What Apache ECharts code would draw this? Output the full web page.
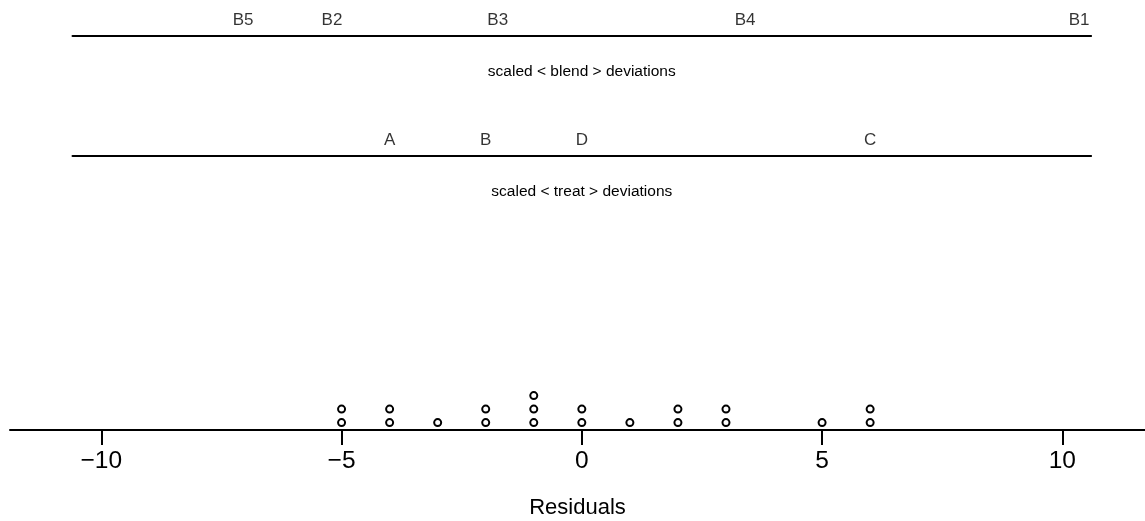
<!DOCTYPE html>
<html>
<head>
<meta charset="utf-8">
<script src="https://cdn.jsdelivr.net/npm/echarts@6/dist/echarts.min.js"></script>
<style>
  html, body { margin: 0; padding: 0; background: #fff; }
  #main { width: 1145px; height: 521px; }
</style>
</head>
<body>
<div id="main"></div>
<script>
// scaled blend deviations
const blendNames = ['B1', 'B2', 'B3', 'B4', 'B5']
const blendDev = [10.35, -5.2, -1.75, 3.4, -7.05]
// scaled treatment deviations
const treatNames = ['A', 'B', 'C', 'D']
const treatDev = [-4, -2, 6, 0]
// residuals (dot plot)
const residuals = [-5, -5, -4, -4, -3, -2, -2, -1, -1, -1, 0, 0, 1, 2, 2, 3, 3, 5, 6, 6]
const tickValues = [-10, -5, 0, 5, 10]

const font = 'Liberation Sans, Arial, Helvetica, sans-serif'

// stack repeated residuals on top of each other
const seen = {}
const dots = residuals.map(v => {
  seen[v] = (seen[v] || 0) + 1
  return [v, seen[v]]
})

const chart = echarts.init(document.getElementById('main'))

function devAxis(gridIndex, name) {
  return {
    type: 'value',
    gridIndex: gridIndex,
    min: -10.6,
    max: 10.6,
    axisLine: { show: true, onZero: false, lineStyle: { color: '#000', width: 2 } },
    axisTick: { show: false },
    axisLabel: { show: false },
    splitLine: { show: false },
    name: name,
    nameLocation: 'middle',
    nameGap: 28,
    nameTextStyle: { color: '#000', fontSize: 15.5, fontFamily: font }
  }
}

function devSeries(idx, names, vals) {
  return {
    type: 'scatter',
    xAxisIndex: idx,
    yAxisIndex: idx,
    symbolSize: 0,
    silent: true,
    data: names.map((n, i) => ({ name: n, value: [vals[i], 0] })),
    label: {
      show: true,
      position: 'top',
      distance: 7,
      formatter: p => p.name,
      color: '#000',
      fontSize: 17,
      fontFamily: font
    }
  }
}

const option = {
  animation: false,
  backgroundColor: '#fff',
  grid: [
    { left: 72.5, right: 53.9, top: 0, height: 36 },
    { left: 72.5, right: 53.9, top: 120, height: 36 },
    { left: 10, right: 0, top: 390.2, height: 39.8 }
  ],
  xAxis: [
    devAxis(0, 'scaled < blend > deviations'),
    devAxis(1, 'scaled < treat > deviations'),
    {
      type: 'value',
      gridIndex: 2,
      min: -11.9,
      max: 11.72,
      axisLine: { show: true, onZero: false, lineStyle: { color: '#000', width: 2 } },
      axisTick: {
        show: true,
        customValues: tickValues,
        length: 15,
        lineStyle: { color: '#000', width: 2 }
      },
      axisLabel: {
        show: true,
        customValues: tickValues,
        margin: 19,
        color: '#000',
        fontSize: 24.5,
        fontFamily: font,
        formatter: v => (v < 0 ? '\u2212' + Math.abs(v) : String(v))
      },
      splitLine: { show: false },
      name: 'Residuals',
      nameLocation: 'middle',
      nameGap: 67,
      nameTextStyle: { color: '#000', fontSize: 22, fontFamily: font }
    }
  ],
  yAxis: [
    { type: 'value', gridIndex: 0, min: 0, max: 1, show: false },
    { type: 'value', gridIndex: 1, min: 0, max: 1, show: false },
    { type: 'value', gridIndex: 2, min: 0.45, max: 3.4, show: false }
  ],
  series: [
    devSeries(0, blendNames, blendDev),
    devSeries(1, treatNames, treatDev),
    {
      type: 'scatter',
      xAxisIndex: 2,
      yAxisIndex: 2,
      symbol: 'circle',
      symbolSize: 7,
      silent: true,
      itemStyle: { color: '#fff', borderColor: '#000', borderWidth: 2, opacity: 1 },
      data: dots
    }
  ]
}

chart.setOption(option)
window.onresize = () => {
  chart.resize()
}
</script>
</body>
</html>
